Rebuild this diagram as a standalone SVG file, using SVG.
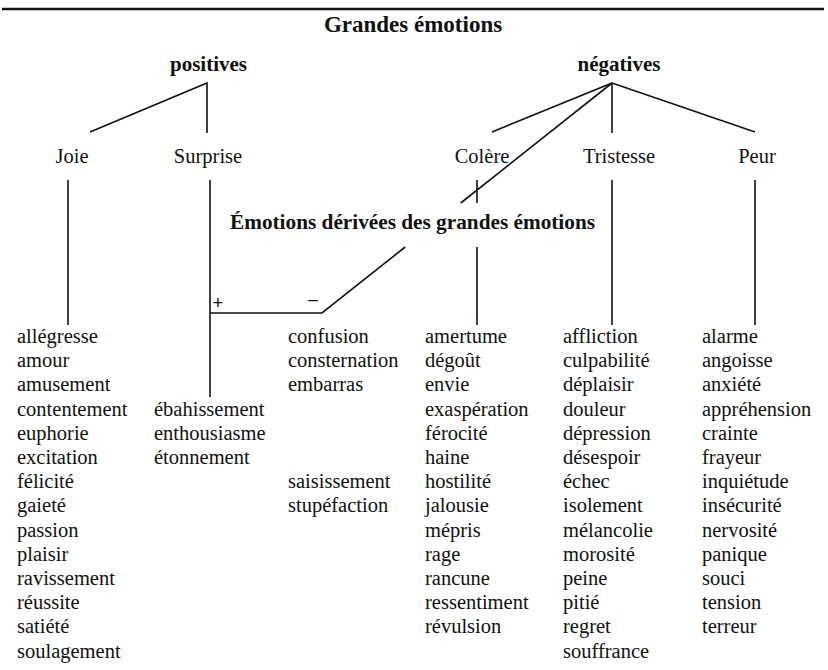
<svg xmlns="http://www.w3.org/2000/svg" width="828" height="670" viewBox="0 0 828 670">
<style>
text{font-family:"Liberation Serif","Times New Roman",serif;fill:#111}
.t{font-size:23px;font-weight:bold}
.b{font-size:21px;font-weight:bold}
.h{font-size:20.5px}
.l{font-size:20.5px}
.s{font-size:19px;font-weight:bold}
.c line,.c polyline{stroke:#111;stroke-width:1.6;fill:none}
</style>
<rect width="828" height="670" fill="#fff"/>
<line x1="2" y1="9" x2="824" y2="9" stroke="#111" stroke-width="2.6"/>
<g id="title"><text class="t" x="413" y="32" text-anchor="middle">Grandes émotions</text></g>
<g id="positives"><text class="b" x="208.5" y="71" text-anchor="middle">positives</text></g>
<g id="negatives"><text class="b" x="619" y="71" text-anchor="middle">négatives</text></g>
<g id="joie"><text class="h" x="72" y="163" text-anchor="middle">Joie</text></g>
<g id="surprise"><text class="h" x="208" y="163" text-anchor="middle">Surprise</text></g>
<g id="colere"><text class="h" x="482" y="163" text-anchor="middle">Colère</text></g>
<g id="tristesse"><text class="h" x="619" y="163" text-anchor="middle">Tristesse</text></g>
<g id="peur"><text class="h" x="757" y="163" text-anchor="middle">Peur</text></g>
<g id="derivees"><text class="b" x="230" y="229" textLength="365" lengthAdjust="spacingAndGlyphs">Émotions dérivées des grandes émotions</text></g>
<g id="signs"><text class="s" x="218" y="309" text-anchor="middle">+</text><text class="s" x="313" y="305" text-anchor="middle">–</text></g>
<g class="c" id="connectors">
<polyline points="90,132 207,83 207,133"/>
<line x1="612" y1="83" x2="492" y2="132"/>
<line x1="612" y1="83" x2="612" y2="133"/>
<line x1="612" y1="83" x2="755" y2="132"/>
<line x1="612" y1="83" x2="460.7" y2="203"/>
<polyline points="405.2,247 322,313 210,313"/>
<line x1="68" y1="180" x2="68" y2="325"/>
<line x1="210" y1="180" x2="210" y2="397"/>
<line x1="477" y1="180" x2="477" y2="203"/>
<line x1="477" y1="247" x2="477" y2="325"/>
<line x1="612" y1="180" x2="612" y2="325"/>
<line x1="755" y1="180" x2="755" y2="325"/>
</g>
<g id="list-joie"><text class="l">
<tspan x="17" y="343">allégresse</tspan><tspan x="17" dy="24.2">amour</tspan><tspan x="17" dy="24.2">amusement</tspan><tspan x="17" dy="24.2">contentement</tspan><tspan x="17" dy="24.2">euphorie</tspan><tspan x="17" dy="24.2">excitation</tspan><tspan x="17" dy="24.2">félicité</tspan><tspan x="17" dy="24.2">gaieté</tspan><tspan x="17" dy="24.2">passion</tspan><tspan x="17" dy="24.2">plaisir</tspan><tspan x="17" dy="24.2">ravissement</tspan><tspan x="17" dy="24.2">réussite</tspan><tspan x="17" dy="24.2">satiété</tspan><tspan x="17" dy="24.2">soulagement</tspan>
</text></g>
<g id="list-surprise-pos"><text class="l">
<tspan x="154" y="415.6">ébahissement</tspan><tspan x="154" dy="24.2">enthousiasme</tspan><tspan x="154" dy="24.2">étonnement</tspan>
</text></g>
<g id="list-surprise-neg"><text class="l">
<tspan x="288" y="343">confusion</tspan><tspan x="288" dy="24.2">consternation</tspan><tspan x="288" dy="24.2">embarras</tspan>
<tspan x="288" y="488.2">saisissement</tspan><tspan x="288" dy="24.2">stupéfaction</tspan>
</text></g>
<g id="list-colere"><text class="l">
<tspan x="425" y="343">amertume</tspan><tspan x="425" dy="24.2">dégoût</tspan><tspan x="425" dy="24.2">envie</tspan><tspan x="425" dy="24.2">exaspération</tspan><tspan x="425" dy="24.2">férocité</tspan><tspan x="425" dy="24.2">haine</tspan><tspan x="425" dy="24.2">hostilité</tspan><tspan x="425" dy="24.2">jalousie</tspan><tspan x="425" dy="24.2">mépris</tspan><tspan x="425" dy="24.2">rage</tspan><tspan x="425" dy="24.2">rancune</tspan><tspan x="425" dy="24.2">ressentiment</tspan><tspan x="425" dy="24.2">révulsion</tspan>
</text></g>
<g id="list-tristesse"><text class="l">
<tspan x="563" y="343">affliction</tspan><tspan x="563" dy="24.2">culpabilité</tspan><tspan x="563" dy="24.2">déplaisir</tspan><tspan x="563" dy="24.2">douleur</tspan><tspan x="563" dy="24.2">dépression</tspan><tspan x="563" dy="24.2">désespoir</tspan><tspan x="563" dy="24.2">échec</tspan><tspan x="563" dy="24.2">isolement</tspan><tspan x="563" dy="24.2">mélancolie</tspan><tspan x="563" dy="24.2">morosité</tspan><tspan x="563" dy="24.2">peine</tspan><tspan x="563" dy="24.2">pitié</tspan><tspan x="563" dy="24.2">regret</tspan><tspan x="563" dy="24.2">souffrance</tspan>
</text></g>
<g id="list-peur"><text class="l">
<tspan x="702" y="343">alarme</tspan><tspan x="702" dy="24.2">angoisse</tspan><tspan x="702" dy="24.2">anxiété</tspan><tspan x="702" dy="24.2">appréhension</tspan><tspan x="702" dy="24.2">crainte</tspan><tspan x="702" dy="24.2">frayeur</tspan><tspan x="702" dy="24.2">inquiétude</tspan><tspan x="702" dy="24.2">insécurité</tspan><tspan x="702" dy="24.2">nervosité</tspan><tspan x="702" dy="24.2">panique</tspan><tspan x="702" dy="24.2">souci</tspan><tspan x="702" dy="24.2">tension</tspan><tspan x="702" dy="24.2">terreur</tspan>
</text></g>
</svg>
